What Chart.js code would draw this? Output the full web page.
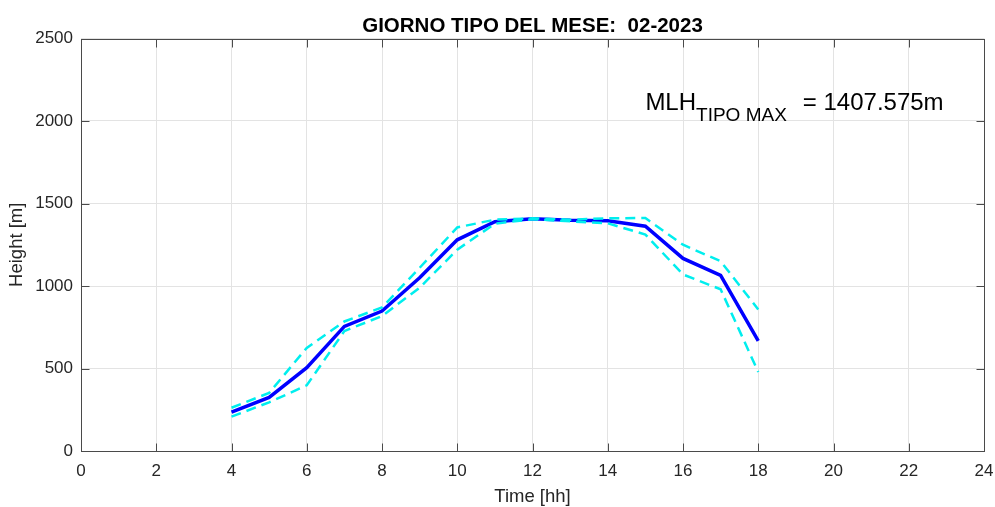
<!DOCTYPE html>
<html>
<head>
<meta charset="utf-8">
<title>Giorno tipo del mese 02-2023</title>
<script src="https://cdn.jsdelivr.net/npm/chart.js@4.4.1/dist/chart.umd.min.js"></script>
<style>
    html, body { margin: 0; padding: 0; background: #fff; }
    #wrap { width: 995px; height: 507px; position: relative; }
</style>
</head>
<body>
<div id="wrap"><canvas id="mlhChart"></canvas></div>
<script>
// Hours of the typical day and the mixing layer height (m)
const hours = [4, 5, 6, 7, 8, 9, 10, 11, 12, 13, 14, 15, 16, 17, 18];
const mlhMean = [235, 325, 505, 755, 848, 1050, 1280, 1390, 1408, 1398, 1396, 1362, 1167, 1064, 667];
const mlhUpper = [262, 352, 625, 785, 870, 1110, 1355, 1402, 1410, 1402, 1410, 1412, 1250, 1150, 858];
const mlhLower = [208, 295, 398, 727, 818, 990, 1220, 1378, 1405, 1392, 1380, 1312, 1070, 980, 479];

// Tick labels
const xTickValues = [0, 2, 4, 6, 8, 10, 12, 14, 16, 18, 20, 22, 24];
const yTickValues = [0, 500, 1000, 1500, 2000, 2500];

const titleText = 'GIORNO TIPO DEL MESE:  02-2023';
const mlhMax = 1407.575;

const axisColor = '#4a4a4a';
const textColor = '#262626';
const gridColor = '#e3e3e3';
const fontFamily = "'Liberation Sans', Arial, Helvetica, sans-serif";

function toPoints(values) {
    return hours.map((h, i) => ({ x: h, y: values[i] }));
}

// Draws the closed axes box, inward ticks, title and MLH annotation (MATLAB look)
const matlabBox = {
    id: 'matlabBox',
    afterDraw(chart) {
        const { ctx, chartArea: a, scales } = chart;
        const xs = scales.x, ys = scales.y;
        const tickLen = 8;
        ctx.save();
        ctx.strokeStyle = axisColor;
        ctx.lineWidth = 1;
        const L = Math.round(a.left) + 0.5, R = Math.round(a.right) + 0.5;
        const T = Math.round(a.top) + 0.5, B = Math.round(a.bottom) + 0.5;
        ctx.strokeRect(L, T, R - L, B - T);
        ctx.beginPath();
        xTickValues.forEach(v => {
            const px = Math.round(xs.getPixelForValue(v)) + 0.5;
            ctx.moveTo(px, B); ctx.lineTo(px, B - tickLen);
            ctx.moveTo(px, T); ctx.lineTo(px, T + tickLen);
        });
        yTickValues.forEach(v => {
            const py = Math.round(ys.getPixelForValue(v)) + 0.5;
            ctx.moveTo(L, py); ctx.lineTo(L + tickLen, py);
            ctx.moveTo(R, py); ctx.lineTo(R - tickLen, py);
        });
        ctx.stroke();

        // title centred over the axes
        ctx.fillStyle = '#000';
        ctx.font = 'bold 20.5px ' + fontFamily;
        ctx.textAlign = 'center';
        ctx.textBaseline = 'alphabetic';
        ctx.fillText(titleText, (a.left + a.right) / 2, 31.5);

        // MLH annotation with subscript
        let tx = xs.getPixelForValue(15);
        const ty = ys.getPixelForValue(2068);
        ctx.textAlign = 'left';
        ctx.font = '24px ' + fontFamily;
        ctx.fillText('MLH', tx, ty);
        tx += ctx.measureText('MLH').width;
        ctx.font = '19px ' + fontFamily;
        ctx.fillText('TIPO MAX', tx, ty + 11.5);
        tx += ctx.measureText('TIPO MAX').width + 16;
        ctx.font = '24px ' + fontFamily;
        ctx.fillText('= ' + mlhMax.toFixed(3) + 'm', tx, ty);
        ctx.restore();
    }
};

const ctx = document.getElementById('mlhChart').getContext('2d');
new Chart(ctx, {
    type: 'line',
    data: {
        datasets: [
            {
                label: 'MLH max',
                data: toPoints(mlhUpper),
                borderColor: '#00eeee',
                borderWidth: 2.5,
                borderDash: [10, 6],
                pointRadius: 0,
                fill: false,
                tension: 0
            },
            {
                label: 'MLH min',
                data: toPoints(mlhLower),
                borderColor: '#00eeee',
                borderWidth: 2.5,
                borderDash: [10, 6],
                pointRadius: 0,
                fill: false,
                tension: 0
            },
            {
                label: 'MLH',
                data: toPoints(mlhMean),
                borderColor: '#0000ff',
                borderWidth: 3.5,
                pointRadius: 0,
                fill: false,
                tension: 0
            }
        ]
    },
    options: {
        responsive: true,
        maintainAspectRatio: false,
        animation: false,
        layout: { padding: { top: 38.5, right: 11, left: 0, bottom: 0 } },
        plugins: {
            legend: { display: false },
            tooltip: { enabled: false },
            title: { display: false }
        },
        scales: {
            x: {
                type: 'linear',
                min: 0,
                max: 24,
                afterBuildTicks: s => { s.ticks = xTickValues.map(v => ({ value: v })); },
                afterFit: s => {
                    s.height = 56;
                    s.paddingLeft = 0;
                    s.paddingRight = 0;
                },
                grid: { color: gridColor, drawTicks: false },
                border: { display: false },
                ticks: {
                    padding: 10,
                    color: textColor,
                    font: { family: fontFamily, size: 17 },
                    maxRotation: 0,
                    callback: v => String(v)
                },
                title: {
                    display: true,
                    text: 'Time [hh]',
                    color: textColor,
                    font: { family: fontFamily, size: 18.5, lineHeight: 1 },
                    padding: { top: 0, bottom: 1 }
                }
            },
            y: {
                min: 0,
                max: 2500,
                afterBuildTicks: s => { s.ticks = yTickValues.map(v => ({ value: v })); },
                afterFit: s => {
                    s.width = 81;
                    s.paddingTop = 0;
                    s.paddingBottom = 0;
                },
                grid: { color: gridColor, drawTicks: false },
                border: { display: false },
                ticks: {
                    padding: 8,
                    color: textColor,
                    font: { family: fontFamily, size: 17 },
                    callback: v => String(v)
                },
                title: {
                    display: true,
                    text: 'Height [m]',
                    color: textColor,
                    font: { family: fontFamily, size: 18.5, lineHeight: 1 },
                    padding: { top: 8, bottom: 0 }
                }
            }
        }
    },
    plugins: [matlabBox]
});
</script>
</body>
</html>
